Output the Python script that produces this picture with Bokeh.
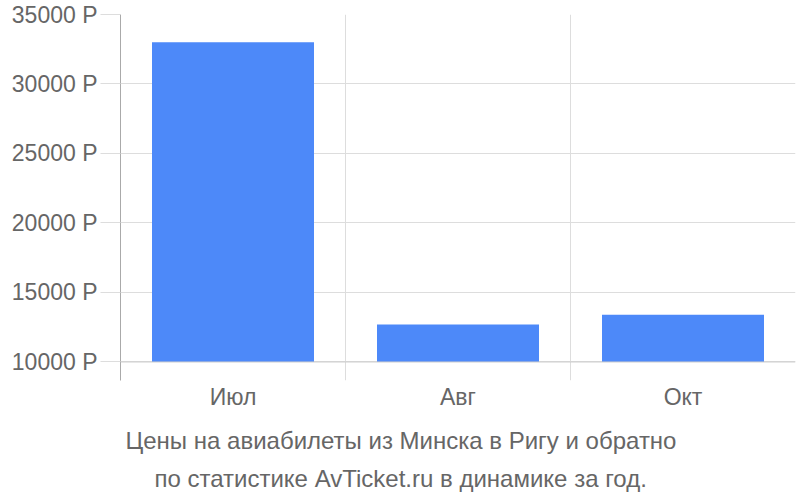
from bokeh.plotting import figure
from bokeh.models import FixedTicker, Span, Title, Range1d
from bokeh.embed import file_html
from bokeh.resources import INLINE

months = ["Июл", "Авг", "Окт"]
prices = [33000, 12700, 13400]
y_ticks = [10000, 15000, 20000, 25000, 30000, 35000]
y_tick_labels = ["10000 Р", "15000 Р", "20000 Р", "25000 Р", "30000 Р", "35000 Р"]
title_lines = ["Цены на авиабилеты из Минска в Ригу и обратно",
               "по статистике AvTicket.ru в динамике за год."]

FONT = "Liberation Sans"
TXT = "#666666"
FS = "23px"
FS_T = "24px"

y_lo = 10000 - 18.5 / 347 * 25000

p = figure(width=800, height=500, output_backend="svg", toolbar_location=None,
           x_range=Range1d(0, len(months)), y_range=Range1d(y_lo, 35000),
           min_border_left=120, min_border_right=5, min_border_top=14, min_border_bottom=120)
p.outline_line_color = None
p.background_fill_color = "white"
p.border_fill_color = "white"

xs = [i + 0.5 for i in range(len(months))]
p.vbar(x=xs, top=prices, bottom=10000, width=0.72, color="#4d89f9", line_color=None)

# grids
p.xgrid.ticker = FixedTicker(ticks=list(range(1, len(months) + 1)))
p.xgrid.grid_line_color = "#dddddd"
p.ygrid.ticker = FixedTicker(ticks=y_ticks)
p.ygrid.grid_line_color = "#dddddd"

base = Span(location=10000, dimension="width", line_color="#cccccc", line_width=1)
p.add_layout(base)

# y axis
yax = p.yaxis[0]
yax.ticker = FixedTicker(ticks=y_ticks)
yax.major_label_overrides = {t: l for t, l in zip(y_ticks, y_tick_labels)}
yax.axis_line_color = "#aaaaaa"
yax.major_tick_out = 20
yax.major_tick_in = 0
yax.major_tick_line_color = "#dddddd"
yax.minor_tick_line_color = None
yax.major_label_standoff = 3
yax.major_label_text_font = FONT
yax.major_label_text_font_size = FS
yax.major_label_text_color = TXT

# x axis
xax = p.xaxis[0]
xax.ticker = FixedTicker(ticks=xs)
xax.major_label_overrides = {x: m for x, m in zip(xs, months)}
xax.axis_line_color = None
xax.major_tick_line_color = None
xax.minor_tick_line_color = None
xax.major_label_standoff = -3
xax.major_label_text_font = FONT
xax.major_label_text_font_size = FS
xax.major_label_text_color = TXT

offsets = [5, 34]
standoffs = [25, -8]
for line, off, so in zip(title_lines, offsets, standoffs):
    t = Title(text=line, align="left", offset=off, text_font=FONT,
              text_font_size=FS_T, text_color=TXT, text_font_style="normal",
              standoff=so)
    p.add_layout(t, "below")

open("out.html", "w").write(file_html(p, INLINE))
